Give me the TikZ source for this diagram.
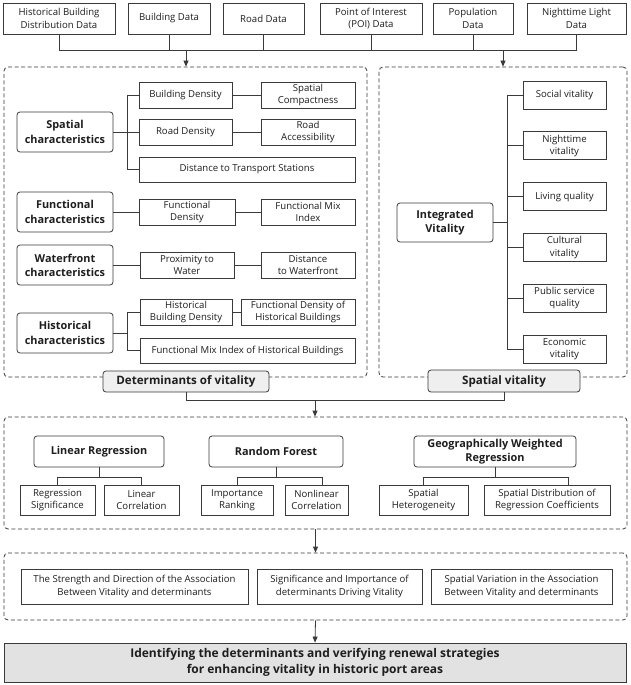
\documentclass[tikz,border=0pt]{standalone}
\usepackage{fontspec}
\setmainfont{Open Sans}
\usetikzlibrary{arrows.meta}
\definecolor{lc}{HTML}{3A3A3A}
\definecolor{tc}{HTML}{1E1E1E}
\definecolor{labfill}{HTML}{EFEFEF}
\definecolor{finfill}{HTML}{E2E2E2}
\newcommand{\smallfs}{\fontsize{9.6}{12.3}\selectfont}
\newcommand{\headfs}{\fontsize{10.9}{14.2}\selectfont\bfseries}
\newcommand{\labfs}{\fontsize{11.6}{14.5}\selectfont\bfseries}
\newcommand{\finfs}{\fontsize{12}{15.5}\selectfont\bfseries}
\begin{document}
\begin{tikzpicture}[x=1pt,y=-1pt,
  wh/.style 2 args={minimum width=#1pt, minimum height=#2pt},
  box/.style={draw=lc, line width=0.8pt, fill=white, inner sep=0pt, align=center, text=tc, font=\smallfs},
  rbox/.style={box, rounded corners=3pt, font=\headfs},
  labbox/.style={rbox, fill=labfill, font=\labfs},
  finbox/.style={box, fill=finfill, font=\finfs},
  panel/.style={draw=lc, line width=0.8pt, dash pattern=on 4pt off 2.5pt, rounded corners=4pt, inner sep=0pt},
  ln/.style={draw=lc, line width=0.8pt},
  arr/.style={ln, -{Triangle[length=6pt,width=5pt]}}]
\useasboundingbox (0,0) rectangle (630,685);

% data sources
\node[box, wh={112}{31}] (d1) at (59,18.5) {Historical Building\\Distribution Data};
\node[box, wh={82}{31}] (d2) at (169,18.5) {Building Data};
\node[box, wh={81}{31}] (d3) at (263.5,18.5) {Road Data};
\node[box, wh={102}{31}] (d4) at (371,18.5) {Point of Interest\\(POI) Data};
\node[box, wh={80}{31}] (d5) at (473,18.5) {Population\\Data};
\node[box, wh={99}{31}] (d6) at (576.5,18.5) {Nighttime Light\\Data};

% panels
\node[panel, wh={363}{310}] (lp) at (185.5,222) {};
\node[panel, wh={248}{310}] (rp) at (503,222) {};

\coordinate (busL) at (59,50);
\coordinate (busR) at (576.5,50);
\draw[ln] (d1.south) -- (busL) -- (busR) -- (d6.south);
\foreach \n in {d2,d3,d4,d5} \draw[ln] (\n.south) -- (\n.south |- busL);
\coordinate (aL) at (186,50);
\coordinate (aR) at (503,50);
\draw[arr] (aL) -- (aL |- lp.north);
\draw[arr] (aR) -- (aR |- rp.north);

% left panel content
\node[rbox, wh={96}{40}] (sp) at (65,132) {Spatial\\characteristics};
\node[box, wh={93}{26}] (bd) at (185.5,95) {Building Density};
\node[box, wh={94}{26}] (sc) at (308,95) {Spatial\\Compactness};
\node[box, wh={93}{26}] (rd) at (185.5,132) {Road Density};
\node[box, wh={94}{26}] (ra) at (308,132) {Road\\Accessibility};
\node[box, wh={216}{25}] (dts) at (247,169.5) {Distance to Transport Stations};

\node[rbox, wh={96}{40}] (fc) at (65,212) {Functional\\characteristics};
\node[box, wh={96}{26}] (fd) at (187,212) {Functional\\Density};
\node[box, wh={94}{26}] (fmi) at (308,212) {Functional Mix\\Index};

\node[rbox, wh={96}{40}] (wc) at (65,265) {Waterfront\\characteristics};
\node[box, wh={94}{26}] (pw) at (187,265) {Proximity to\\Water};
\node[box, wh={94}{26}] (dw) at (308,265) {Distance\\to Waterfront};

\node[rbox, wh={96}{40}] (hc) at (65,333) {Historical\\characteristics};
\node[box, wh={92}{26}] (hbd) at (186,312) {Historical\\Building Density};
\node[box, wh={114}{26}] (fdhb) at (298,312) {Functional Density of\\Historical Buildings};
\node[box, wh={215}{25}] (fmihb) at (247.5,350.5) {Functional Mix Index of Historical Buildings};

\coordinate (brS) at (127,132);
\draw[ln] (sp.east) -- (rd.west);
\draw[ln] (bd.west) -- (bd.west -| brS) -- (dts.west -| brS) -- (dts.west);
\draw[ln] (bd.east) -- (sc.west);
\draw[ln] (rd.east) -- (ra.west);
\draw[ln] (fc.east) -- (fd.west);
\draw[ln] (fd.east) -- (fmi.west);
\draw[ln] (wc.east) -- (pw.west);
\draw[ln] (pw.east) -- (dw.west);
\coordinate (brH) at (127,333);
\draw[ln] (hc.east) -- (brH);
\draw[ln] (hbd.west) -- (hbd.west -| brH) -- (fmihb.west -| brH) -- (fmihb.west);
\draw[ln] (hbd.east) -- (fdhb.west);

% right panel content
\node[rbox, wh={96}{39}] (iv) at (445,222.5) {Integrated\\Vitality};
\node[box, wh={83}{28}] (v1) at (564.5,95) {Social vitality};
\node[box, wh={83}{28}] (v2) at (564.5,145.8) {Nighttime\\vitality};
\node[box, wh={83}{28}] (v3) at (564.5,196.6) {Living quality};
\node[box, wh={83}{28}] (v4) at (564.5,247.4) {Cultural\\vitality};
\node[box, wh={83}{28}] (v5) at (564.5,298.2) {Public service\\quality};
\node[box, wh={83}{28}] (v6) at (564.5,349) {Economic\\vitality};
\coordinate (brV) at (507,222.5);
\draw[ln] (iv.east) -- (brV);
\draw[ln] (v1.west) -- (v1.west -| brV) -- (v6.west -| brV) -- (v6.west);
\foreach \n in {v2,v3,v4,v5} \draw[ln] (\n.west) -- (\n.west -| brV);

% panel labels
\node[labbox, wh={166}{21}] (dl) at (186,381.5) {Determinants of vitality};
\node[labbox, wh={152}{22}] (sl) at (504,381) {Spatial vitality};

% methods panel
\node[panel, wh={623}{112}] (p2) at (315.5,473) {};
\coordinate (mbus) at (315,400);
\draw[ln] (dl.south) -- (dl.south |- mbus) -- (sl.south |- mbus) -- (sl.south);
\draw[arr] (mbus) -- (mbus |- p2.north);

\node[rbox, wh={130}{31}] (lr) at (99,451.5) {Linear Regression};
\node[rbox, wh={134}{31}] (rf) at (276,451.5) {Random Forest};
\node[rbox, wh={162}{31}] (gwr) at (495,451.5) {Geographically Weighted\\Regression};
\node[box, wh={75}{30}] (rs) at (57.5,500) {Regression\\Significance};
\node[box, wh={75}{30}] (lcor) at (141.5,500) {Linear\\Correlation};
\node[box, wh={72}{30}] (ir) at (237,500) {Importance\\Ranking};
\node[box, wh={63}{30}] (nc) at (316.5,500) {Nonlinear\\Correlation};
\node[box, wh={89}{30}] (sh) at (423.5,500) {Spatial\\Heterogeneity};
\node[box, wh={126}{30}] (sdrc) at (547,500) {Spatial Distribution of\\Regression Coefficients};

\coordinate (lrb) at (99,477);
\draw[ln] (lr.south) -- (lrb);
\draw[ln] (rs.north) -- (rs.north |- lrb) -- (lcor.north |- lrb) -- (lcor.north);
\coordinate (rfb) at (276,477);
\coordinate (ncx) at (322,485);
\draw[ln] (rf.south) -- (rfb);
\draw[ln] (ir.north) -- (ir.north |- rfb) -- (ncx |- rfb) -- (ncx);
\coordinate (gb) at (495,477);
\coordinate (sdx) at (568,485);
\draw[ln] (gwr.south) -- (gb);
\draw[ln] (sh.north) -- (sh.north |- gb) -- (sdx |- gb) -- (sdx);

% results panel
\node[panel, wh={623}{67}] (p3) at (315.5,586.5) {};
\draw[arr] (p2.south) -- (p3.north);
\node[box, wh={227}{35}] (ba) at (134.5,586.5) {The Strength and Direction of the Association\\Between Vitality and determinants};
\node[box, wh={165}{35}] (bb) at (339.5,586.5) {Significance and Importance of\\determinants Driving Vitality};
\node[box, wh={181}{35}] (bc) at (521.5,586.5) {Spatial Variation in the Association\\Between Vitality and determinants};

% final
\node[finbox, wh={622}{39}] (fin) at (315,662.5) {Identifying the determinants and verifying renewal strategies\\for enhancing vitality in historic port areas};
\draw[arr] (p3.south) -- (fin.north);
\end{tikzpicture}
\end{document}
